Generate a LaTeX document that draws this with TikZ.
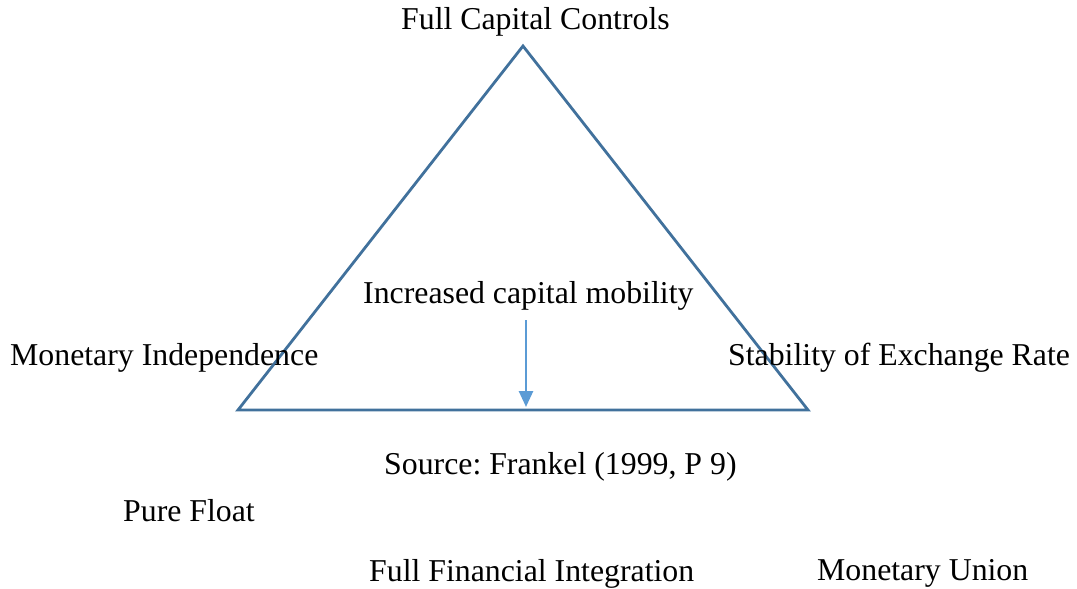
\documentclass[tikz,border=0pt]{standalone}
\usepackage{fontspec}
\setmainfont{Liberation Serif}
\usetikzlibrary{arrows.meta}
\definecolor{edgeblue}{HTML}{41719C}
\definecolor{arrowblue}{HTML}{5B9BD5}
\frenchspacing

\begin{document}
\begin{tikzpicture}[x=1pt, y=-1pt,
    label/.style={anchor=base west, inner sep=0pt, font=\fontsize{31.8}{38}\selectfont}]
    \useasboundingbox (0, 0) rectangle (1077, 589);
    % Corners of the trilemma triangle
    \coordinate (top) at (523, 46);
    \coordinate (left) at (238, 410);
    \coordinate (right) at (808, 410);
    \draw[edgeblue, line width=2.8pt, line join=miter] (top) -- (right) -- (left) -- cycle;

    % Labels
    \node[label] (controls) at (401, 30) {Full Capital Controls};
    \node[label] (mobility) at (363, 303) {Increased capital mobility};
    \node[label] (independence) at (10, 365) {Monetary Independence};
    \node[label] (stability) at (728, 365) {Stability of Exchange Rate};
    \node[label] (source) at (384, 474) {Source: Frankel (1999, P 9)};
    \node[label] (float) at (123, 521) {Pure Float};
    \node[label] (integration) at (369, 581) {Full Financial Integration};
    \node[label] (union) at (817, 580) {Monetary Union};

    % Arrow down to the base
    \coordinate (arrowstart) at (526, 320);
    \coordinate (arrowend) at (526, 407);
    \draw[arrowblue, line width=2.6pt, -{Triangle[length=16pt, width=14pt]}] (arrowstart) -- (arrowend);
\end{tikzpicture}
\end{document}
